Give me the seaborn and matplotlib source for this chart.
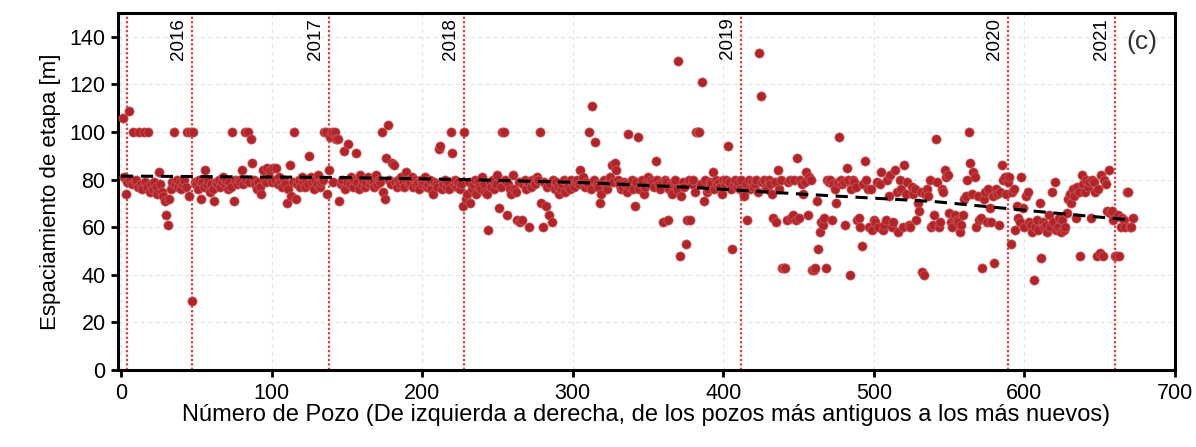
import matplotlib
matplotlib.use('Agg')
import matplotlib.pyplot as plt
import numpy as np
import pandas as pd
import seaborn as sns

# espaciamiento de etapa [m] por pozo (pozo 1..672)
espaciamiento = [
    106, 81, 74, 79, 109, 80, 78, 100, 79, 80, 77, 100, 78, 76, 100, 79, 77, 100, 75, 78,
    76, 79, 77, 74, 83, 78, 75, 73, 71, 65, 61, 72, 76, 79, 100, 78, 80, 77, 79, 76,
    78, 80, 77, 100, 73, 100, 29, 100, 79, 78, 76, 80, 72, 79, 77, 84, 78, 80, 75, 78,
    76, 71, 79, 78, 80, 77, 79, 81, 78, 80, 76, 79, 77, 100, 71, 80, 78, 80, 79, 84,
    78, 100, 80, 100, 79, 97, 87, 80, 78, 76, 79, 77, 74, 84, 80, 79, 85, 81, 84, 79,
    85, 80, 85, 78, 81, 79, 77, 80, 78, 70, 76, 86, 73, 79, 100, 72, 78, 80, 77, 81,
    79, 77, 80, 78, 90, 81, 79, 76, 80, 78, 82, 77, 79, 80, 100, 100, 74, 84, 98, 100,
    79, 100, 97, 97, 71, 78, 80, 92, 76, 79, 95, 78, 81, 77, 80, 91, 79, 76, 82, 78,
    80, 77, 79, 81, 78, 80, 79, 77, 82, 78, 80, 79, 100, 75, 72, 89, 103, 80, 78, 87,
    86, 79, 77, 80, 78, 81, 79, 77, 83, 80, 78, 79, 81, 77, 80, 78, 79, 76, 80, 78,
    79, 81, 77, 78, 80, 76, 74, 79, 78, 77, 93, 94, 76, 78, 80, 77, 79, 76, 100, 91,
    78, 80, 77, 79, 76, 78, 69, 100, 72, 74, 79, 70, 76, 78, 80, 74, 79, 77, 76, 81,
    78, 75, 74, 59, 79, 77, 80, 76, 78, 82, 68, 77, 100, 100, 80, 65, 78, 76, 74, 82,
    76, 75, 63, 79, 62, 63, 78, 80, 76, 79, 60, 77, 80, 79, 78, 81, 80, 100, 70, 60,
    79, 69, 77, 65, 78, 62, 80, 76, 79, 77, 74, 76, 78, 80, 75, 79, 77, 76, 80, 78,
    77, 79, 80, 78, 84, 79, 81, 77, 79, 78, 100, 76, 111, 80, 96, 78, 77, 70, 74, 79,
    80, 78, 76, 79, 81, 86, 79, 87, 84, 80, 78, 76, 77, 79, 78, 75, 99, 77, 80, 76,
    69, 79, 98, 76, 78, 80, 74, 77, 79, 81, 78, 80, 79, 77, 88, 80, 78, 76, 79, 62,
    80, 79, 63, 76, 78, 74, 79, 80, 76, 130, 48, 73, 79, 77, 53, 63, 80, 63, 78, 80,
    75, 100, 100, 100, 78, 121, 71, 80, 75, 76, 79, 78, 83, 76, 80, 78, 79, 77, 74, 80,
    78, 80, 94, 79, 76, 51, 78, 80, 77, 79, 76, 80, 75, 73, 78, 63, 80, 76, 79, 77,
    78, 80, 75, 133, 115, 79, 80, 77, 76, 80, 78, 74, 64, 79, 62, 84, 76, 80, 43, 43,
    43, 63, 79, 80, 64, 65, 80, 63, 89, 64, 80, 78, 74, 79, 83, 65, 81, 80, 42, 42,
    43, 71, 51, 58, 62, 61, 64, 43, 80, 79, 80, 63, 78, 76, 70, 79, 98, 80, 78, 79,
    61, 85, 80, 40, 76, 80, 79, 77, 63, 64, 60, 52, 78, 88, 80, 76, 60, 76, 59, 63,
    62, 79, 60, 78, 83, 59, 61, 63, 80, 73, 82, 60, 62, 84, 75, 58, 80, 76, 60, 86,
    74, 79, 61, 60, 77, 74, 76, 63, 70, 67, 75, 41, 40, 74, 76, 73, 80, 60, 61, 65,
    97, 79, 60, 62, 76, 75, 84, 81, 82, 66, 62, 60, 64, 65, 63, 62, 58, 61, 65, 72,
    73, 80, 100, 87, 74, 83, 81, 60, 73, 63, 64, 43, 72, 75, 62, 76, 68, 62, 73, 45,
    76, 74, 61, 75, 86, 80, 81, 74, 79, 81, 53, 75, 76, 59, 69, 64, 62, 81, 68, 60,
    73, 75, 62, 61, 58, 38, 60, 63, 59, 70, 47, 62, 60, 61, 58, 65, 60, 75, 62, 79,
    59, 60, 64, 58, 63, 59, 60, 66, 72, 74, 70, 76, 73, 64, 77, 75, 48, 82, 78, 75,
    80, 77, 79, 64, 80, 79, 75, 48, 76, 49, 82, 48, 80, 78, 67, 84, 66, 67, 63, 48,
    48, 65, 48, 60, 64, 63, 60, 75, 75, 60, 60, 64,
]
pozo = np.arange(1, len(espaciamiento) + 1)

# línea de tendencia
tend_x = [0, 146, 230, 305, 380, 458, 540, 611, 670]
tend_y = [81.5, 80.9, 80.0, 78.8, 76.7, 73.7, 70.8, 66.5, 63.1]

# inicio de cada año
anio_x = [4, 47, 138, 228, 412, 589, 660]
anio_lbl = ['', '2016', '2017', '2018', '2019', '2020', '2021']

sns.set_theme(style='whitegrid')
plt.rcParams['font.family'] = ['Liberation Sans', 'DejaVu Sans']
plt.rcParams['text.color'] = 'black'
plt.rcParams['axes.labelcolor'] = 'black'
plt.rcParams['xtick.color'] = 'black'
plt.rcParams['ytick.color'] = 'black'

df = pd.DataFrame({'pozo': pozo, 'esp': espaciamiento})
tend = pd.DataFrame({'x': tend_x, 'y': tend_y})

fig = plt.figure(figsize=(11.96, 4.47), dpi=100)
ax = fig.add_axes([0.0987, 0.172, 0.8838, 0.799])

for xv in anio_x:
    ax.axvline(xv, color='#e03a3a', lw=1.6, ls=(0, (1, 1)), zorder=1)

sns.scatterplot(data=df, x='pozo', y='esp', color='#b0252a', s=44,
                edgecolor='#cf5a5e', linewidth=0.5, ax=ax, zorder=3)
sns.lineplot(data=tend, x='x', y='y', color='black', lw=2.2, ax=ax, zorder=4)
ax.lines[-1].set_dashes([4, 2.5])

for xv, lbl in zip(anio_x, anio_lbl):
    if lbl:
        ax.text(xv - 9, 148, lbl, rotation=90, ha='center', va='top',
                fontsize=13.5, color='black')

ax.text(0.969, 0.92, '(c)', transform=ax.transAxes, ha='center', va='center',
        fontsize=19, color='#333333')

ax.set_xlim(-2, 700)
ax.set_ylim(0, 150)
ax.set_xticks(range(0, 701, 100))
ax.set_yticks(range(0, 141, 20))
ax.grid(True, color='#e4e4e4', ls=(0, (3, 3)), lw=0.9)
for sp in ax.spines.values():
    sp.set_color('black')
    sp.set_linewidth(2.2)
ax.tick_params(axis='both', which='major', direction='out', length=5, width=2,
               labelsize=15.5, pad=4, left=True, bottom=True)
ax.set_xlabel('Número de Pozo (De izquierda a derecha, de los pozos más antiguos a los más nuevos)',
              fontsize=17, labelpad=0)
ax.set_ylabel('Espaciamiento de etapa [m]', fontsize=16, labelpad=6)

fig.savefig('out.png', dpi=100, facecolor='white')
